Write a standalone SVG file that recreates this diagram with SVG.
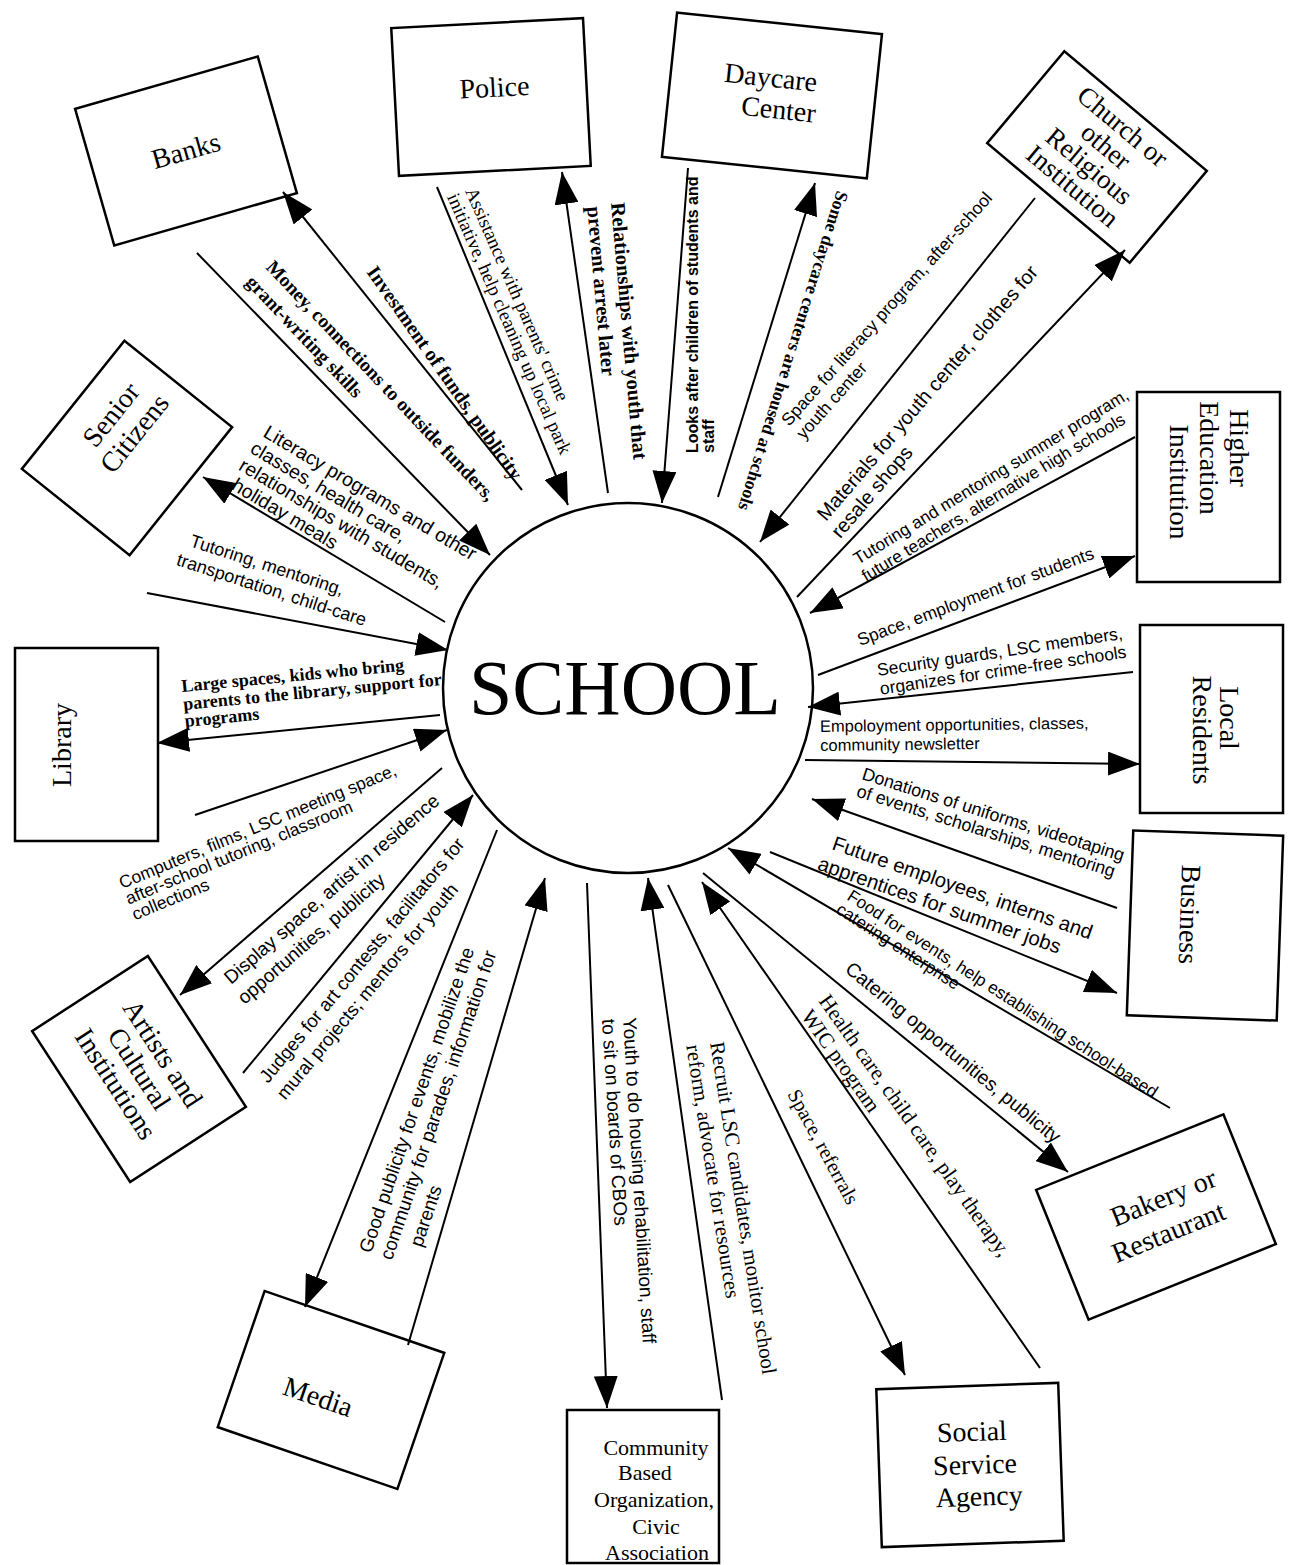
<svg xmlns="http://www.w3.org/2000/svg" width="1291" height="1565" viewBox="0 0 1291 1565">
<style>
.box{fill:#fff;stroke:#000;stroke-width:2.5}
.nl{font-family:"Liberation Serif",serif;font-size:28px;text-anchor:middle;fill:#000}
.ls{font-family:"Liberation Sans",sans-serif;font-size:18px;fill:#000}
.lr{font-family:"Liberation Serif",serif;font-size:19px;fill:#000}
.b{font-weight:bold}
.cl line{stroke:#000;stroke-width:2;fill:none}
</style>
<defs>
<marker id="ah" viewBox="0 0 32 24" refX="32" refY="12" markerWidth="32" markerHeight="24" markerUnits="userSpaceOnUse" orient="auto"><path d="M0,0 L32,12 L0,24 z" fill="#000"/></marker>
</defs>
<rect width="1291" height="1565" fill="#fff"/>

<g id="school"><circle cx="628" cy="688" r="185" class="box" stroke-width="2"/><text x="625" y="714" style="font-family:'Liberation Serif',serif;font-size:78px;text-anchor:middle">SCHOOL</text></g>

<g id="banks" transform="translate(186,151) rotate(-16)"><rect class="box" x="-95" y="-71" width="190" height="142"/><text class="nl" y="9">Banks</text></g>
<g id="police" transform="translate(491,97) rotate(-3)"><rect class="box" x="-96" y="-74" width="192" height="148"/><text class="nl" x="4" y="0">Police</text></g>
<g id="daycare" transform="translate(772,95) rotate(6)"><rect class="box" x="-103" y="-72" width="206" height="145"/><text class="nl" x="-3" y="-8">Daycare</text><text class="nl" x="8" y="23">Center</text></g>
<g id="church" transform="translate(1097,157) rotate(40)"><rect class="box" x="-93" y="-60" width="186" height="120"/><text class="nl" style="font-size:27px" y="-31">Church or</text><text class="nl" style="font-size:27px" y="-5">other</text><text class="nl" style="font-size:27px" y="21">Religious</text><text class="nl" style="font-size:27px" y="47">Institution</text></g>
<g id="higher-ed"><rect class="box" x="1137" y="392" width="143" height="190"/><text class="nl" transform="translate(1230,448) rotate(90)">Higher</text><text class="nl" transform="translate(1200,458) rotate(90)">Education</text><text class="nl" transform="translate(1170,482) rotate(90)">Institution</text></g>
<g id="local-residents"><rect class="box" x="1140" y="625" width="143" height="188"/><text class="nl" transform="translate(1220,718) rotate(90)">Local</text><text class="nl" transform="translate(1193,730) rotate(90)">Residents</text></g>
<g id="business" transform="translate(1205,925) rotate(2)"><rect class="box" x="-75" y="-92" width="150" height="185"/><text class="nl" transform="translate(-25,-10) rotate(90)">Business</text></g>
<g id="bakery" transform="translate(1156,1217) rotate(-22)"><rect class="box" x="-101" y="-70" width="202" height="140"/><text class="nl" x="14" y="-6">Bakery or</text><text class="nl" x="6" y="28">Restaurant</text></g>
<g id="social-service" transform="translate(970,1465) rotate(-2)"><rect class="box" x="-91" y="-79" width="182" height="158"/><text class="nl" x="3" y="-24">Social</text><text class="nl" x="5" y="9">Service</text><text class="nl" x="8" y="41">Agency</text></g>
<g id="cbo"><rect class="box" x="567" y="1410" width="152" height="153"/><text class="nl" style="font-size:22px" x="656" y="1455">Community</text><text class="nl" style="font-size:22px" x="645" y="1480">Based</text><text class="nl" style="font-size:22px" x="654" y="1507">Organization,</text><text class="nl" style="font-size:22px" x="656" y="1534">Civic</text><text class="nl" style="font-size:22px" x="657" y="1560">Association</text></g>
<g id="media" transform="translate(331,1390) rotate(19)"><rect class="box" x="-95" y="-72" width="190" height="144"/><text class="nl" x="-10" y="20">Media</text></g>
<g id="artists" transform="translate(139,1069) rotate(57)"><rect class="box" x="-90" y="-69" width="180" height="138"/><text class="nl" y="-19">Artists and</text><text class="nl" y="9">Cultural</text><text class="nl" y="37">Institutions</text></g>
<g id="library"><rect class="box" x="15" y="648" width="143" height="193"/><text class="nl" transform="translate(71,745) rotate(-90)">Library</text></g>
<g id="senior-citizens" transform="translate(127,448) rotate(-51.3)"><rect class="box" x="-82" y="-69" width="164" height="138"/><text class="nl" x="16" y="-24">Senior</text><text class="nl" x="16" y="6">Citizens</text></g>

<g id="connectors" class="cl">
<line x1="522" y1="490" x2="283" y2="192" marker-end="url(#ah)"/>
<line x1="197" y1="253" x2="490" y2="555" marker-end="url(#ah)"/>
<line x1="437" y1="187" x2="568" y2="505" marker-end="url(#ah)"/>
<line x1="608" y1="493" x2="562" y2="172" marker-end="url(#ah)"/>
<line x1="688" y1="168" x2="662" y2="503" marker-end="url(#ah)"/>
<line x1="718" y1="497" x2="815" y2="183" marker-end="url(#ah)"/>
<line x1="1035" y1="198" x2="760" y2="542" marker-end="url(#ah)"/>
<line x1="797" y1="597" x2="1125" y2="250" marker-end="url(#ah)"/>
<line x1="1135" y1="437" x2="810" y2="613" marker-end="url(#ah)"/>
<line x1="818" y1="675" x2="1135" y2="556" marker-end="url(#ah)"/>
<line x1="1133" y1="672" x2="808" y2="707" marker-end="url(#ah)"/>
<line x1="805" y1="760" x2="1140" y2="764" marker-end="url(#ah)"/>
<line x1="1117" y1="908" x2="812" y2="799" marker-end="url(#ah)"/>
<line x1="770" y1="852" x2="1117" y2="993" marker-end="url(#ah)"/>
<line x1="1170" y1="1108" x2="728" y2="848" marker-end="url(#ah)"/>
<line x1="703" y1="873" x2="1068" y2="1172" marker-end="url(#ah)"/>
<line x1="1040" y1="1368" x2="702" y2="882" marker-end="url(#ah)"/>
<line x1="668" y1="885" x2="905" y2="1375" marker-end="url(#ah)"/>
<line x1="722" y1="1400" x2="648" y2="878" marker-end="url(#ah)"/>
<line x1="587" y1="883" x2="607" y2="1408" marker-end="url(#ah)"/>
<line x1="497" y1="830" x2="305" y2="1307" marker-end="url(#ah)"/>
<line x1="408" y1="1345" x2="545" y2="878" marker-end="url(#ah)"/>
<line x1="442" y1="768" x2="180" y2="995" marker-end="url(#ah)"/>
<line x1="243" y1="1073" x2="473" y2="795" marker-end="url(#ah)"/>
<line x1="440" y1="715" x2="157" y2="743" marker-end="url(#ah)"/>
<line x1="195" y1="815" x2="447" y2="730" marker-end="url(#ah)"/>
<line x1="445" y1="622" x2="203" y2="477" marker-end="url(#ah)"/>
<line x1="147" y1="593" x2="448" y2="650" marker-end="url(#ah)"/>

<text class="lr b" style="font-size:20px" transform="translate(366,272) rotate(55)">Investment of funds, publicity</text>
<text class="lr b" style="font-size:19.5px" transform="translate(265,268) rotate(46.5)"><tspan x="0" y="0">Money, connections to outside funders,</tspan><tspan x="-3" dy="25">grant-writing skills</tspan></text>
<text class="lr" style="font-size:19px" transform="translate(465,191) rotate(66.3)"><tspan x="0" y="0">Assistance with parents' crime</tspan><tspan x="-2" dy="19">initiative, help cleaning up local park</tspan></text>
<text class="lr b" style="font-size:20.5px" transform="translate(611,203) rotate(85)"><tspan x="0" y="0">Relationships with youth that</tspan><tspan x="2" dy="24">prevent arrest later</tspan></text>
<text class="ls b" style="font-size:16px" transform="translate(698,453) rotate(-90)"><tspan x="0" y="0">Looks after children of students and</tspan><tspan x="0" dy="16">staff</tspan></text>
<text class="lr b" style="font-size:18px" transform="translate(837,190) rotate(107.3)">Some daycare centers are housed at schools</text>
<text class="ls" style="font-size:17.5px" transform="translate(789,427) rotate(-48.2)"><tspan x="0" y="0">Space for literacy program, after-school</tspan><tspan x="0" dy="20">youth center</tspan></text>
<text class="ls" style="font-size:20px" transform="translate(826,522) rotate(-49.5)"><tspan x="0" y="0">Materials for youth center, clothes for</tspan><tspan x="-4" dy="22">resale shops</tspan></text>
<text class="ls" style="font-size:17.3px" transform="translate(858,565) rotate(-31.5)"><tspan x="0" y="0">Tutoring and mentoring summer program,</tspan><tspan x="-2" dy="19">future teachers, alternative high schools</tspan></text>
<text class="ls" style="font-size:17.5px" transform="translate(860,646) rotate(-20.5)">Space, employment for students</text>
<text class="ls" style="font-size:17.5px" transform="translate(878,676) rotate(-8.6)"><tspan x="0" y="0">Security guards, LSC members,</tspan><tspan x="0" dy="19">organizes for crime-free schools</tspan></text>
<text class="ls" style="font-size:16.5px" transform="translate(820,732) rotate(-0.7)"><tspan x="0" y="0">Empoloyment opportunities, classes,</tspan><tspan x="0" dy="19">community newsletter</tspan></text>
<text class="ls" style="font-size:17.8px" transform="translate(861,779) rotate(17.5)"><tspan x="0" y="0">Donations of uniforms, videotaping</tspan><tspan x="0" dy="18">of events, scholarships, mentoring</tspan></text>
<text class="ls" style="font-size:20.3px" transform="translate(831,849) rotate(19.3)"><tspan x="0" y="0">Future employees, interns and</tspan><tspan x="-7" dy="24">apprentices for summer jobs</tspan></text>
<text class="ls" style="font-size:17.3px" transform="translate(846,899) rotate(33)"><tspan x="0" y="0">Food for events, help establishing school-based</tspan><tspan x="-2" dy="17">catering enterprise</tspan></text>
<text class="ls" style="font-size:19.5px" transform="translate(844,971) rotate(39.5)">Catering opportunities, publicity</text>
<text class="lr" style="font-size:21.5px" transform="translate(818,1001) rotate(54.7)"><tspan x="0" y="0">Health care, child care, play therapy,</tspan><tspan x="2" dy="23">WIC program</tspan></text>
<text class="lr" style="font-size:20.5px" transform="translate(787,1094) rotate(61.6)">Space, referrals</text>
<text class="lr" style="font-size:21px" transform="translate(710,1043) rotate(81)"><tspan x="0" y="0">Recruit LSC candidates, monitor school</tspan><tspan x="-1" dy="24">reform, advocate for resources</tspan></text>
<text class="ls" style="font-size:19px" transform="translate(623,1018) rotate(86.5)"><tspan x="0" y="0">Youth to do housing rehabilitation, staff</tspan><tspan x="0" dy="21">to sit on boards of CBOs</tspan></text>
<text class="ls" style="font-size:19px" transform="translate(371,1254) rotate(-71.2)"><tspan x="0" y="0">Good publicity for events, mobilize the</tspan><tspan x="0" dy="22">community for parades, information for</tspan><tspan x="22" dy="24">parents</tspan></text>
<text class="ls" style="font-size:19px" transform="translate(231,985) rotate(-41)"><tspan x="0" y="0">Display space, artist in residence</tspan><tspan x="-3" dy="24">opportunities, publicity</tspan></text>
<text class="ls" style="font-size:18.7px" transform="translate(268,1084) rotate(-50.5)"><tspan x="0" y="0">Judges for art contests, facilitators for</tspan><tspan x="-2" dy="24">mural projects; mentors for youth</tspan></text>
<text class="lr b" style="font-size:18px" transform="translate(182,692) rotate(-5.5)"><tspan x="0" y="0">Large spaces, kids who bring</tspan><tspan x="0" dy="18">parents to the library, support for</tspan><tspan x="0" dy="17">programs</tspan></text>
<text class="ls" style="font-size:17.5px" transform="translate(122,889) rotate(-22.5)"><tspan x="0" y="0">Computers, films, LSC meeting space,</tspan><tspan x="0" dy="17">after-school tutoring, classroom</tspan><tspan x="0" dy="17">collections</tspan></text>
<text class="ls" style="font-size:19.5px" transform="translate(262,436) rotate(30.8)"><tspan x="0" y="0">Literacy programs and other</tspan><tspan x="-3" dy="20.5">classes, health care,</tspan><tspan x="-4" dy="20.5">relationships with students,</tspan><tspan x="0" dy="20.5">holiday meals</tspan></text>
<text class="ls" style="font-size:18px" transform="translate(189,546) rotate(18)"><tspan x="0" y="0">Tutoring, mentoring,</tspan><tspan x="-7" dy="22">transportation, child-care</tspan></text>
</g>
</svg>
